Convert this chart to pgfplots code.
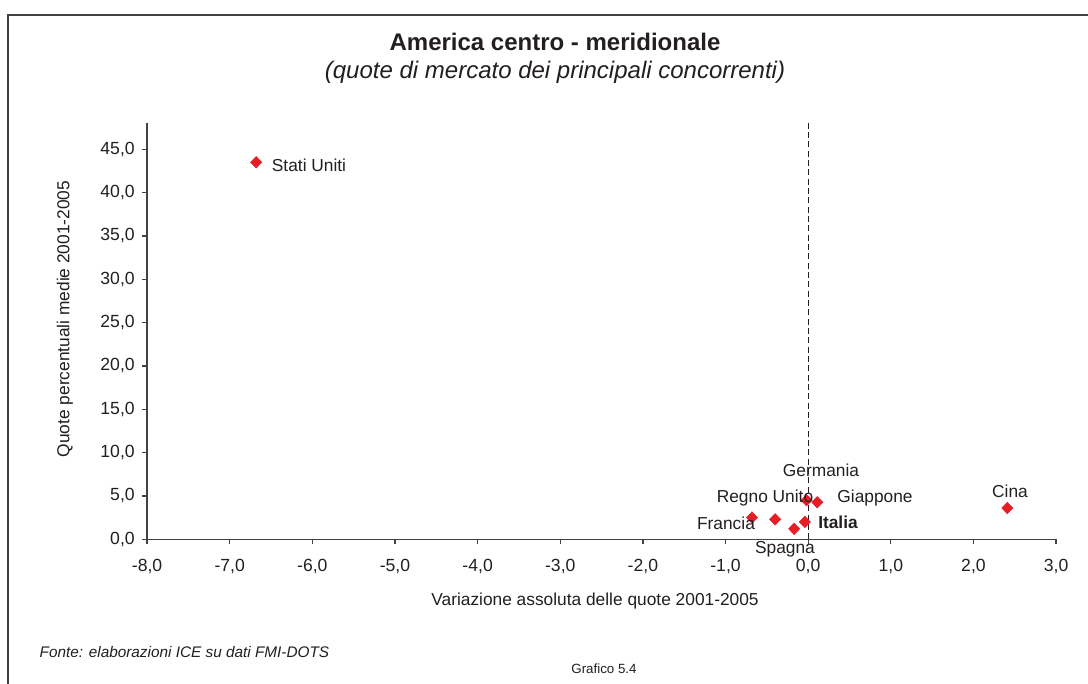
\documentclass[border=0pt]{standalone}
\usepackage{pgfplots}
\pgfplotsset{compat=1.18}
\usepackage{fontspec}
\setmainfont{Liberation Sans}
\definecolor{txt}{RGB}{35,31,32}
\definecolor{mk}{RGB}{230,30,40}
\begin{document}
\begin{tikzpicture}[x=0.75pt,y=0.75pt]
\useasboundingbox (0,0) rectangle (1088,684);
\fill[white] (0,0) rectangle (1088,684);
\draw[txt!85, line width=1.4pt] (8,0) -- (8,669) -- (1088,669);
\begin{axis}[
  at={(178,167)}, anchor=south west,
  scale only axis, width=681.75pt, height=312pt,
  xmin=-8, xmax=3, ymin=0, ymax=48,
  axis x line=bottom, axis y line=left,
  axis line style={-, txt!85, line width=0.9pt},
  xtick={-8,-7,...,3}, ytick={0,5,...,45},
  tick align=outside, major tick length=3.75pt,
  tick style={txt!85, line width=0.9pt},
  ticklabel style={font=\fontsize{13.2}{15}\selectfont, text=txt},
  /pgf/number format/assume math mode=true,
  /pgf/number format/.cd, fixed, fixed zerofill, precision=1, use comma, 1000 sep={},
  /pgfplots/.cd,
  xticklabel style={yshift=-8pt},
  yticklabel style={xshift=-2pt},
  clip=false,
]
\addplot[txt, dash pattern=on 4.5pt off 2.5pt, line width=0.9pt, forget plot] coordinates {(0,0) (0,48)};
\addplot[only marks, mark=diamond*, mark size=4.3pt, color=mk, mark options={fill=mk, draw=mk, xscale=1.3}]
coordinates {
(-6.68,43.5)
(2.41,3.6)
(-0.02,4.5)
(0.11,4.27)
(-0.40,2.3)
(-0.68,2.5)
(-0.17,1.2)
(-0.04,2.0)
};
\end{axis}
\begin{scope}[every node/.style={text=txt, font=\fontsize{13}{15}\selectfont}]
\node at (309,519) {Stati Uniti};
\node at (1010,193) {Cina};
\node at (821,214) {Germania};
\node at (765,186) {Regno Unito};
\node at (875,186) {Giappone};
\node at (726,161) {Francia};
\node at (838,162) {\bfseries Italia};
\node at (785,135) {Spagna};
\end{scope}
\node[text=txt, font=\fontsize{13}{15}\selectfont] at (595,83) {Variazione assoluta delle quote 2001-2005};
\node[text=txt, font=\fontsize{13}{15}\selectfont, rotate=90] at (65,365) {Quote percentuali medie 2001-2005};
\node[text=txt, font=\fontsize{18}{21}\selectfont\bfseries] at (555,642) {America centro - meridionale};
\node[text=txt, font=\fontsize{18}{21}\selectfont\itshape] at (555,612) {(quote di mercato dei principali concorrenti)};
\node[text=txt, font=\fontsize{11.5}{13}\selectfont\itshape, anchor=west] at (35,32) {Fonte: elaborazioni ICE su dati FMI-DOTS};
\node[text=txt, font=\fontsize{10}{12}\selectfont] at (604,15) {Grafico 5.4};
\end{tikzpicture}
\end{document}
